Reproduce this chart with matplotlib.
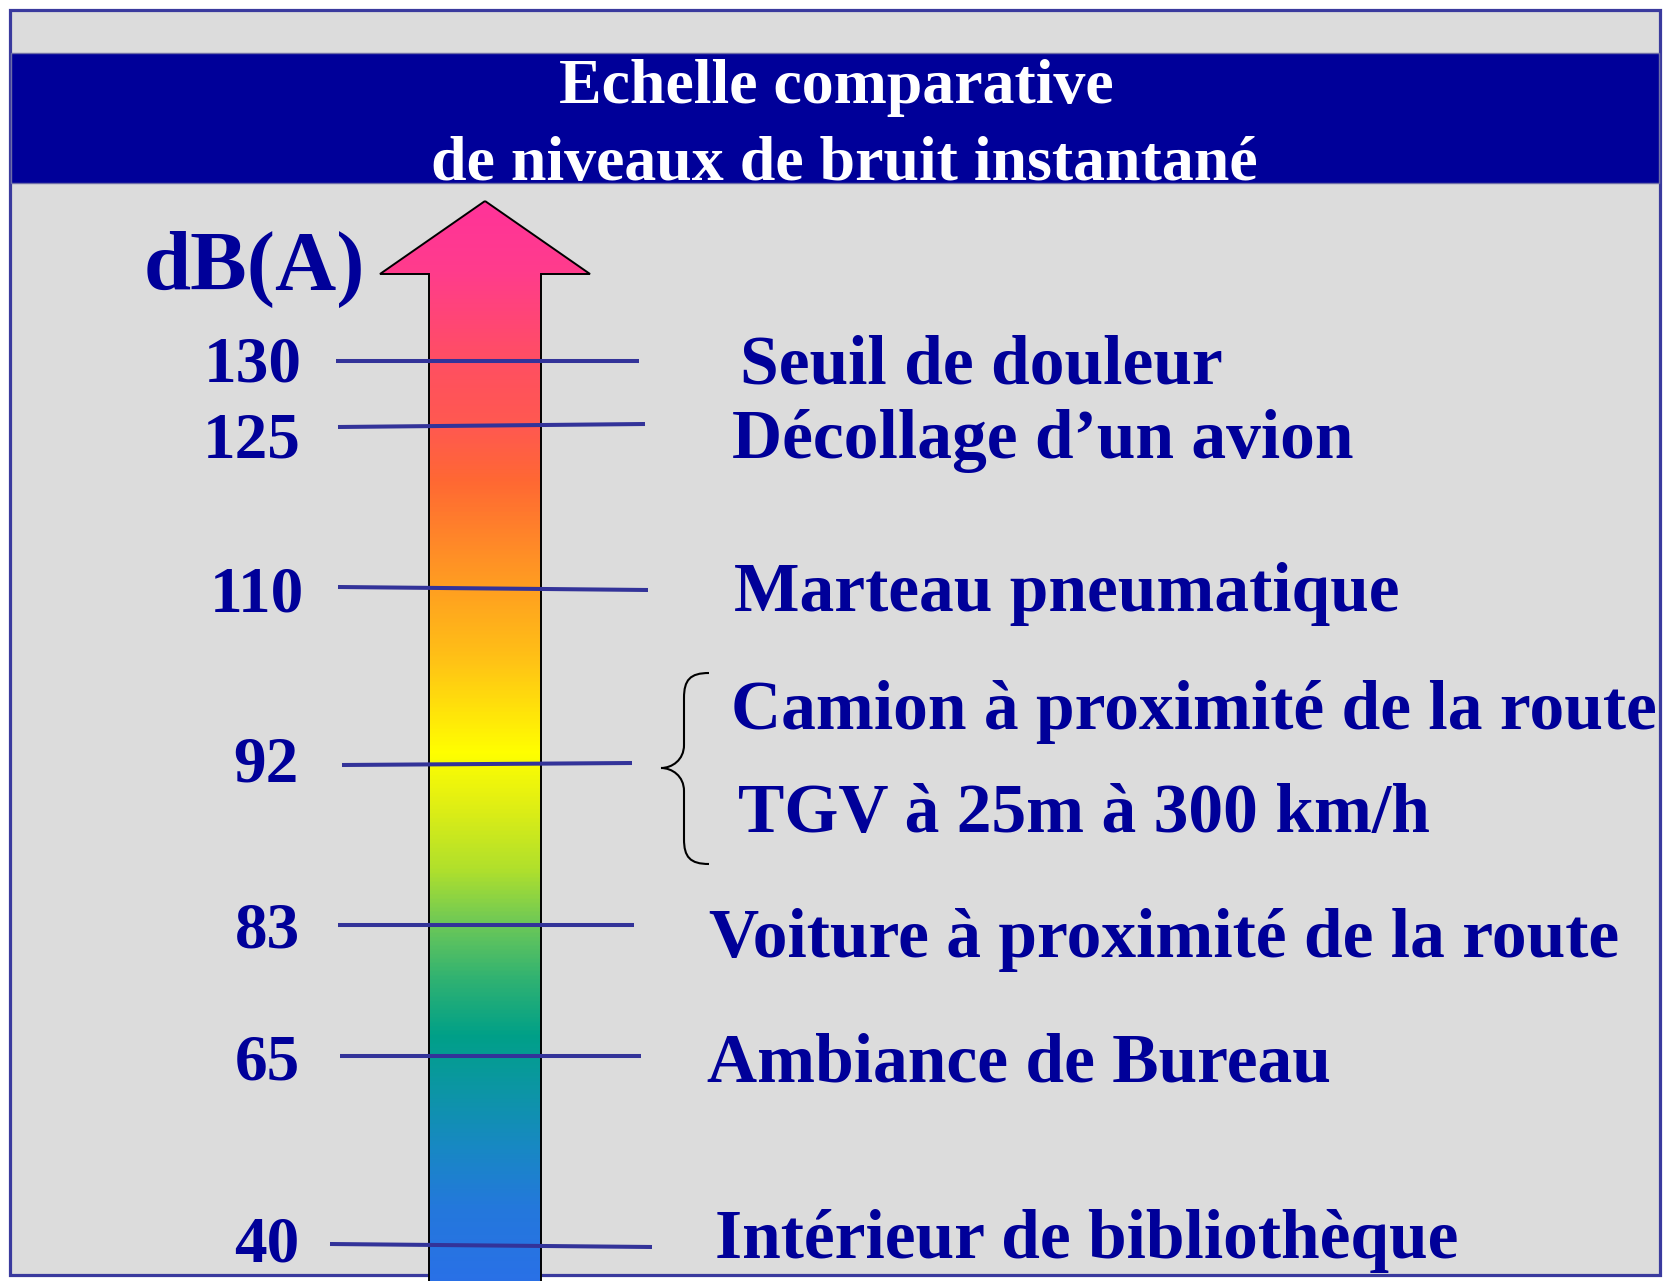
import numpy as np
import matplotlib
matplotlib.use("Agg")
from matplotlib import pyplot as plt
from matplotlib.patches import Rectangle, Polygon, PathPatch
from matplotlib.path import Path
from matplotlib.colors import LinearSegmentedColormap

# ---- data ----
levels = [130, 125, 110, 92, 83, 65, 40]
level_labels = ['130', '125', '110', '92', '83', '65', '40']
sources = ['Seuil de douleur',
           'Décollage d’un avion',
           'Marteau pneumatique',
           'Camion à proximité de la route',
           'TGV à 25m à 300 km/h',
           'Voiture à proximité de la route',
           'Ambiance de Bureau',
           'Intérieur de bibliothèque']
source_level = [130, 125, 110, 92, 92, 83, 65, 40]
title_lines = ['Echelle comparative', 'de niveaux de bruit instantané']
unit = 'dB(A)'

# ---- layout (pixel space of the picture) ----
W, H = 1668, 1281
row_y = {130: 361, 125: 427, 110: 587, 92: 765, 83: 925, 65: 1056, 40: 1244}
tilt = {130: 0, 125: -3, 110: 3, 92: -2, 83: 0, 65: 0, 40: 3}
line_x0 = {130: 336, 125: 338, 110: 338, 92: 342, 83: 338, 65: 340, 40: 330}
line_x1 = {130: 639, 125: 645, 110: 648, 92: 632, 83: 634, 65: 641, 40: 652}
num_base = {130: 382, 125: 458, 110: 611, 92: 782, 83: 947, 65: 1080, 40: 1261}
num_right = {130: 302, 125: 301, 110: 304, 92: 299, 83: 300, 65: 300, 40: 299}
src_pos = [(740, 384), (732, 458), (734, 611), (731, 729),
           (738, 832), (709, 957), (707, 1081), (715, 1258)]

navy = '#000099'
line_col = '#333399'
serif = ['Liberation Serif', 'DejaVu Serif']

fig = plt.figure(figsize=(W / 100, H / 100), dpi=100)
ax = fig.add_axes([0, 0, 1, 1])
ax.set_xlim(0, W)
ax.set_ylim(H, 0)
ax.axis('off')

# frame and header band
ax.add_patch(Rectangle((10, 10), 1650, 1265, facecolor='#DCDCDC',
                       edgecolor='#3A3A9E', lw=2.3, zorder=0))
ax.add_patch(Rectangle((11, 53), 1648, 130, facecolor=navy,
                       edgecolor='#6E6EA8', lw=1.0, zorder=1))
ax.text(836, 103, title_lines[0], color='white', fontsize=46,
        fontweight='bold', family=serif, ha='center', va='baseline', zorder=5)
ax.text(844, 180, title_lines[1], color='white', fontsize=46,
        fontweight='bold', family=serif, ha='center', va='baseline', zorder=5)

# gradient arrow
stops = [(201, '#FF3399'), (270, '#FF3C8C'), (360, '#FF4F62'), (430, '#FF5A4E'),
         (480, '#FF6833'), (545, '#FF8A28'), (590, '#FFA020'), (660, '#FFC216'),
         (753, '#FFFF00'), (800, '#E4F012'), (870, '#B0E02C'), (925, '#6CC858'),
         (980, '#30B272'), (1037, '#00A088'), (1090, '#0C96A4'), (1150, '#1888C4'),
         (1210, '#2478DC'), (1290, '#2A70E8')]
y0, y1 = stops[0][0], stops[-1][0]
cmap = LinearSegmentedColormap.from_list(
    'noise', [((y - y0) / (y1 - y0), c) for y, c in stops])
grad = np.linspace(0, 1, 512).reshape(-1, 1)

arrow_pts = [(485, 201), (590, 274), (541, 274), (541, 1290),
             (429, 1290), (429, 274), (380, 274)]
arrow = Polygon(arrow_pts, closed=True, facecolor='none',
                edgecolor='black', lw=1.4, zorder=4)
ax.add_patch(arrow)
im = ax.imshow(grad, cmap=cmap, aspect='auto', extent=(380, 590, y1, y0),
               zorder=3, interpolation='bilinear')
im.set_clip_path(arrow)

# level lines and numbers
for lev, lab in zip(levels, level_labels):
    y = row_y[lev]
    ax.plot([line_x0[lev], line_x1[lev]], [y, y + tilt[lev]],
            color=line_col, lw=2.9, solid_capstyle='butt', zorder=6)
    ax.text(num_right[lev], num_base[lev], lab, color=navy, fontsize=47,
            fontweight='bold', family=serif, ha='right', va='baseline', zorder=6)

ax.text(144, 290, unit, color=navy, fontsize=61, fontweight='bold',
        family=serif, ha='left', va='baseline', zorder=6)

# source descriptions
for txt, (x, y) in zip(sources, src_pos):
    ax.text(x, y, txt, color=navy, fontsize=50, fontweight='bold',
            family=serif, ha='left', va='baseline', zorder=6)

# curly bracket grouping the two 92 dB sources
bx, tip_x, top, mid, bot = 684, 661, 673, 768, 864
verts = [(709, top), (690, top), (bx, top + 7), (bx, top + 25),
         (bx, mid - 23),
         (bx, mid - 8), (tip_x + 11, mid), (tip_x, mid),
         (tip_x + 11, mid), (bx, mid + 8), (bx, mid + 23),
         (bx, bot - 25),
         (bx, bot - 7), (690, bot), (709, bot)]
codes = [Path.MOVETO, Path.CURVE4, Path.CURVE4, Path.CURVE4,
         Path.LINETO,
         Path.CURVE4, Path.CURVE4, Path.CURVE4,
         Path.CURVE4, Path.CURVE4, Path.CURVE4,
         Path.LINETO,
         Path.CURVE4, Path.CURVE4, Path.CURVE4]
ax.add_patch(PathPatch(Path(verts, codes), facecolor='none',
                       edgecolor='black', lw=1.5, zorder=6))

fig.savefig('out.png', dpi=100, facecolor='white')
